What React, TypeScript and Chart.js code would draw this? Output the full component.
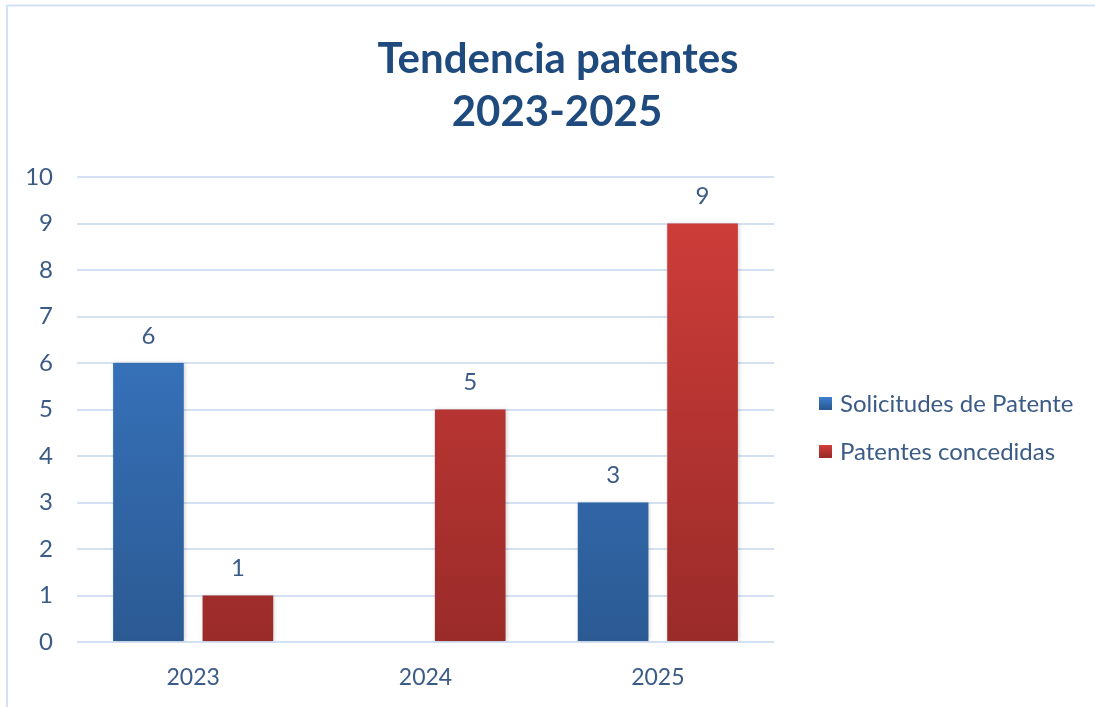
import React, { useEffect, useRef } from "react";
import { Chart, registerables } from "chart.js";

Chart.register(...registerables);

const TITLE_LINES = ["Tendencia patentes", "2023-2025"];
const CATEGORIES = ["2023", "2024", "2025"];
const SOLICITUDES = [6, 0, 3];
const CONCEDIDAS = [1, 5, 9];
const SERIES_LABELS = ["Solicitudes de Patente", "Patentes concedidas"];
const Y_MIN = 0;
const Y_MAX = 10;

const FONT = "Lato, 'Open Sans', sans-serif";
const TEXT_COLOR = "#3b5b87";
const TITLE_COLOR = "#1f4a7e";
const GRID_COLOR = "#d3e1f2";
const BLUE_TOP = "#3d7fd0";
const BLUE_BOTTOM = "#2b5a93";
const RED_TOP = "#d23e3a";
const RED_BOTTOM = "#9a2b29";

function makeGradient(chart: any, top: string, bottom: string) {
  const area = chart.chartArea;
  if (!area) return top;
  const y = chart.scales.y;
  const g = chart.ctx.createLinearGradient(0, area.top, 0, y.getPixelForValue(0));
  g.addColorStop(0, top);
  g.addColorStop(1, bottom);
  return g;
}

const framePlugin = {
  id: "frame",
  beforeDraw(chart: any) {
    const ctx = chart.ctx;
    ctx.save();
    ctx.fillStyle = "#ffffff";
    ctx.fillRect(0, 0, chart.width, chart.height);
    ctx.strokeStyle = "#d2e2f4";
    ctx.lineWidth = 2;
    ctx.beginPath();
    ctx.moveTo(7, chart.height + 5);
    ctx.lineTo(7, 5.5);
    ctx.lineTo(chart.width + 5, 5.5);
    ctx.stroke();
    ctx.restore();
  },
};

const titlePlugin = {
  id: "customTitle",
  afterDraw(chart: any) {
    const ctx = chart.ctx;
    ctx.save();
    ctx.fillStyle = TITLE_COLOR;
    ctx.font = `bold 42px ${FONT}`;
    ctx.textAlign = "center";
    ctx.textBaseline = "middle";
    ctx.fillText(TITLE_LINES[0], 558, 59);
    ctx.fillText(TITLE_LINES[1], 557, 112);
    ctx.restore();
  },
};

const legendPlugin = {
  id: "customLegend",
  afterDraw(chart: any) {
    const ctx = chart.ctx;
    ctx.save();
    ctx.font = `24px ${FONT}`;
    ctx.textBaseline = "middle";
    ctx.textAlign = "left";
    const rows = [
      { label: chart.data.datasets[0].label, top: BLUE_TOP, bottom: BLUE_BOTTOM, y: 403 },
      { label: chart.data.datasets[1].label, top: RED_TOP, bottom: RED_BOTTOM, y: 451 },
    ];
    rows.forEach((r) => {
      const g = ctx.createLinearGradient(0, r.y - 6, 0, r.y + 6);
      g.addColorStop(0, r.top);
      g.addColorStop(1, r.bottom);
      ctx.fillStyle = g;
      ctx.fillRect(819, r.y - 6, 13, 13);
      ctx.fillStyle = TEXT_COLOR;
      ctx.fillText(r.label, 840, r.y + 1);
    });
    ctx.restore();
  },
};

const valueLabelPlugin = {
  id: "valueLabels",
  afterDatasetsDraw(chart: any) {
    const ctx = chart.ctx;
    ctx.save();
    ctx.font = `24px ${FONT}`;
    ctx.fillStyle = TEXT_COLOR;
    ctx.textAlign = "center";
    ctx.textBaseline = "middle";
    chart.data.datasets.forEach((ds: any, di: number) => {
      const meta = chart.getDatasetMeta(di);
      meta.data.forEach((bar: any, i: number) => {
        const v = ds.data[i];
        if (!v) return;
        ctx.fillText(String(v), bar.x, bar.y - 27);
      });
    });
    ctx.restore();
  },
};

const shadowPlugin = {
  id: "barShadow",
  beforeDatasetsDraw(chart: any) {
    const ctx = chart.ctx;
    ctx.save();
    ctx.shadowColor = "rgba(0,0,0,0.18)";
    ctx.shadowBlur = 4;
    ctx.shadowOffsetX = 1;
    ctx.shadowOffsetY = 0;
  },
  afterDatasetsDraw(chart: any) {
    chart.ctx.restore();
  },
};

export default function App() {
  const ref = useRef<HTMLCanvasElement | null>(null);

  useEffect(() => {
    document.body.style.margin = "0";
    const canvas = ref.current;
    if (!canvas) return;
    const chart = new Chart(canvas, {
      type: "bar",
      data: {
        labels: CATEGORIES,
        datasets: [
          {
            label: SERIES_LABELS[0],
            data: SOLICITUDES,
            backgroundColor: (c: any) => makeGradient(c.chart, BLUE_TOP, BLUE_BOTTOM),
            borderWidth: 0,
            categoryPercentage: 0.77,
            barPercentage: 0.79,
          },
          {
            label: SERIES_LABELS[1],
            data: CONCEDIDAS,
            backgroundColor: (c: any) => makeGradient(c.chart, RED_TOP, RED_BOTTOM),
            borderWidth: 0,
            categoryPercentage: 0.77,
            barPercentage: 0.79,
          },
        ],
      },
      options: {
        responsive: false,
        animation: false,
        layout: { padding: { left: 7, right: 321, top: 177, bottom: 15 } },
        plugins: {
          legend: { display: false },
          title: { display: false },
          tooltip: { enabled: false },
        },
        scales: {
          x: {
            grid: { display: false, drawTicks: false },
            border: { display: false },
            ticks: {
              color: TEXT_COLOR,
              font: { family: FONT, size: 23 },
              padding: 22,
            },
            afterFit(scale: any) {
              scale.height = 50;
            },
          },
          y: {
            min: Y_MIN,
            max: Y_MAX,
            grid: { color: GRID_COLOR, lineWidth: 2, drawTicks: false },
            border: { display: false },
            ticks: {
              stepSize: 1,
              color: TEXT_COLOR,
              font: { family: FONT, size: 24 },
              padding: 24,
            },
            afterFit(scale: any) {
              scale.width = 70;
            },
          },
        },
      },
      plugins: [framePlugin, shadowPlugin, valueLabelPlugin, titlePlugin, legendPlugin],
    });
    return () => chart.destroy();
  }, []);

  return (
    <div style={{ position: "absolute", left: 0, top: 0, width: 1095, height: 707 }}>
      <canvas ref={ref} width={1095} height={707} style={{ display: "block", width: 1095, height: 707 }} />
    </div>
  );
}
